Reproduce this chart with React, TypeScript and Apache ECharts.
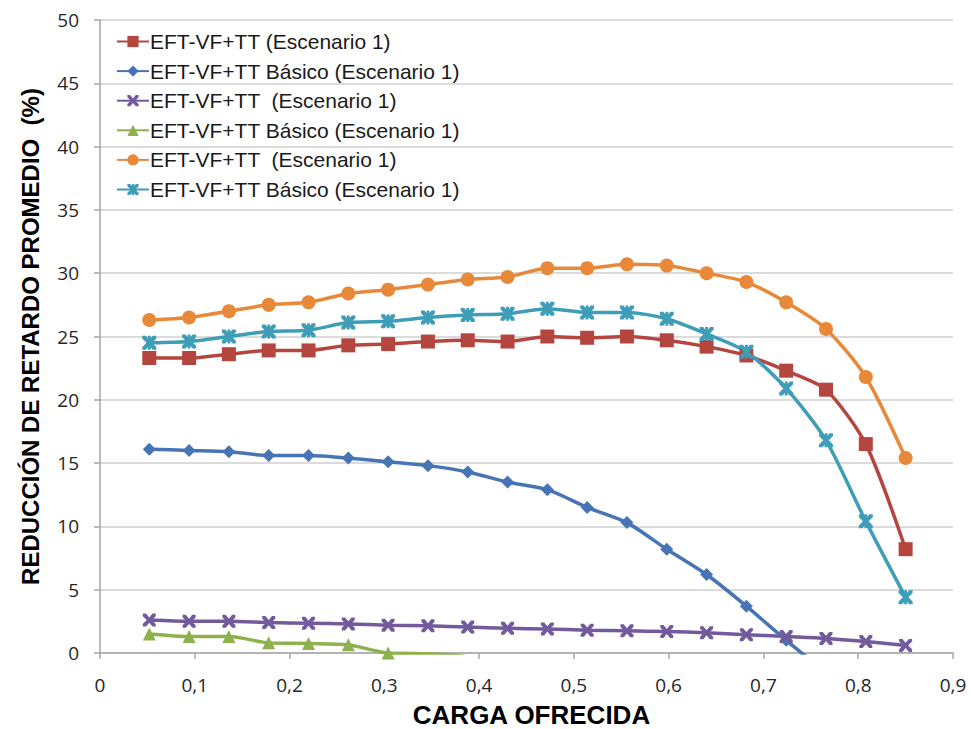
import React, { useEffect, useRef } from "react";
import * as echarts from "echarts";

const xValues = [0.052, 0.094, 0.136, 0.178, 0.22, 0.262, 0.304, 0.346, 0.388, 0.43, 0.472, 0.514, 0.556, 0.598, 0.64, 0.682, 0.724, 0.766, 0.808, 0.85];

const redVals = [23.3, 23.3, 23.6, 23.9, 23.9, 24.3, 24.4, 24.6, 24.7, 24.6, 25.0, 24.9, 25.0, 24.7, 24.2, 23.5, 22.3, 20.8, 16.5, 8.2];
const blueVals = [16.1, 16.0, 15.9, 15.6, 15.6, 15.4, 15.1, 14.8, 14.3, 13.5, 12.9, 11.5, 10.3, 8.2, 6.2, 3.7, 1.0, -1.6, -5.0, -9.0];
const purpleVals = [2.6, 2.5, 2.5, 2.4, 2.35, 2.3, 2.2, 2.15, 2.05, 1.95, 1.9, 1.8, 1.75, 1.7, 1.6, 1.45, 1.3, 1.15, 0.9, 0.6];
const greenVals = [1.5, 1.3, 1.3, 0.8, 0.75, 0.65, 0.0, -0.05, -0.3, -1.2, -2.5, -4, -6, -8, -10, -12, -14, -16, -18, -20];
const orangeVals = [26.3, 26.5, 27.0, 27.5, 27.7, 28.4, 28.7, 29.1, 29.5, 29.7, 30.4, 30.4, 30.7, 30.6, 30.0, 29.3, 27.7, 25.6, 21.8, 15.4];
const tealVals = [24.5, 24.6, 25.0, 25.4, 25.5, 26.1, 26.2, 26.5, 26.7, 26.8, 27.2, 26.9, 26.9, 26.4, 25.2, 23.8, 20.9, 16.8, 10.4, 4.4];

const seriesNames = [
  "EFT-VF+TT (Escenario 1)",
  "EFT-VF+TT Básico (Escenario 1)",
  "EFT-VF+TT  (Escenario 1)",
  "EFT-VF+TT Básico  (Escenario 1)",
  "EFT-VF+TT   (Escenario 1)",
  "EFT-VF+TT Básico   (Escenario 1)",
];
const legendLabels = [
  "EFT-VF+TT (Escenario 1)",
  "EFT-VF+TT Básico (Escenario 1)",
  "EFT-VF+TT  (Escenario 1)",
  "EFT-VF+TT Básico (Escenario 1)",
  "EFT-VF+TT  (Escenario 1)",
  "EFT-VF+TT Básico (Escenario 1)",
];

const xPath = "path://M0,0 L2.5,0 L5,3 L7.5,0 L10,0 L10,2 L7,5 L10,8 L10,10 L7.5,10 L5,7 L2.5,10 L0,10 L0,8 L3,5 L0,2 Z";
const starPath = "path://M0,0 L2.5,0 L4,1.8 L4,0 L6,0 L6,1.8 L7.5,0 L10,0 L10,2 L7,5 L10,8 L10,10 L7.5,10 L6,8.2 L6,10 L4,10 L4,8.2 L2.5,10 L0,10 L0,8 L3,5 L0,2 Z";

const FONT = "Liberation Sans, Arial, sans-serif";
const TICK_FONT = "Open Sans, Noto Sans, sans-serif";

export default function App() {
  const ref = useRef<HTMLDivElement>(null);
  useEffect(() => {
    if (!ref.current) return;
    const chart = echarts.init(ref.current, undefined, { renderer: "svg" });
    const mk = (i: number, vals: number[], color: string, symbol: string, size: number) => ({
      name: seriesNames[i],
      type: "line",
      data: xValues.map((x, k) => [x, vals[k]]),
      smooth: 0.25,
      clip: true,
      symbol,
      symbolSize: size,
      lineStyle: { color, width: 3.5 },
      itemStyle: { color },
      color,
    });
    chart.setOption({
      animation: false,
      backgroundColor: "#ffffff",
      textStyle: { fontFamily: FONT },
      grid: { left: 100, right: 18, top: 20, bottom: 76, containLabel: false, outerBoundsMode: "none" },
      legend: {
        orient: "vertical",
        left: 111,
        top: 26,
        itemWidth: 32,
        itemHeight: 14,
        itemGap: 8.6,
        data: seriesNames,
        formatter: (n: string) => legendLabels[seriesNames.indexOf(n)],
        textStyle: { fontSize: 21, lineHeight: 21, color: "#1a1a1a", fontFamily: FONT, padding: [0, 0, 0, -4] },
      },
      xAxis: {
        type: "value",
        min: 0,
        max: 0.9,
        interval: 0.1,
        name: "CARGA OFRECIDA",
        nameLocation: "middle",
        nameGap: 49,
        nameTextStyle: { fontSize: 26, fontWeight: "bold", color: "#000", fontFamily: FONT, padding: [0, 0, 0, 10] },
        axisLine: { show: true, lineStyle: { color: "#a6a6a6", width: 1.5 } },
        axisTick: { show: true, length: 6, lineStyle: { color: "#a6a6a6", width: 1.5 } },
        splitLine: { show: false },
        axisLabel: {
          fontSize: 19,
          color: "#262626",
          margin: 22,
          fontFamily: TICK_FONT,
          formatter: (v: number) => (v === 0 ? "0" : v.toFixed(1).replace(".", ",")),
        },
      },
      yAxis: {
        type: "value",
        min: 0,
        max: 50,
        interval: 5,
        name: "REDUCCIÓN DE RETARDO PROMEDIO  (%)",
        nameLocation: "middle",
        nameGap: 58,
        nameTextStyle: { fontSize: 24, fontWeight: "bold", color: "#000", fontFamily: FONT },
        axisLine: { show: true, lineStyle: { color: "#a6a6a6", width: 1.5 } },
        axisTick: { show: true, length: 6, lineStyle: { color: "#a6a6a6", width: 1.5 } },
        splitLine: { show: true, lineStyle: { color: "#cfcfcf", width: 1.5 } },
        axisLabel: { fontSize: 19, color: "#262626", margin: 21, fontFamily: TICK_FONT },
      },
      series: [
        mk(0, redVals, "#B4463F", "rect", 14),
        mk(1, blueVals, "#4674B5", "diamond", 13),
        mk(2, purpleVals, "#725A9C", xPath, 13),
        mk(3, greenVals, "#8DB14C", "triangle", 13),
        mk(4, orangeVals, "#E8893A", "circle", 14),
        mk(5, tealVals, "#3E9DB7", starPath, 14),
      ],
    });
    return () => chart.dispose();
  }, []);
  return <div ref={ref} style={{ position: "fixed", left: 0, top: 0, width: 971, height: 729 }} />;
}
